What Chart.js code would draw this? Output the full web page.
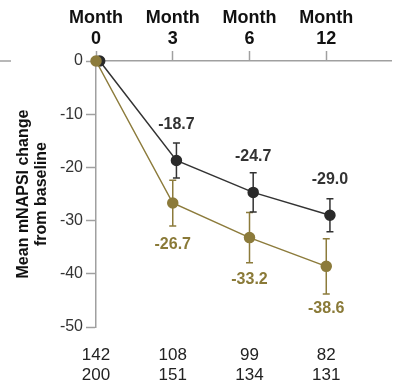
<!DOCTYPE html>
<html>
<head>
<meta charset="utf-8">
<script src="https://cdn.jsdelivr.net/npm/chart.js@4"></script>
<style>
  html, body { margin: 0; padding: 0; background: #fff; }
  #wrap { width: 398px; height: 386px; position: relative; }
</style>
</head>
<body>
<div id="wrap"><canvas id="c"></canvas></div>
<script>
// Visit months and patients at risk per arm
const months = ['0', '3', '6', '12'];
const nGray = [142, 108, 99, 82];
const nGold = [200, 151, 134, 131];

// Mean change from baseline and error bar half-widths
const meanGray = [0, -18.7, -24.7, -29.0];
const errGray = [0, 3.3, 3.7, 3.1];
const meanGold = [0, -26.7, -33.2, -38.6];
const errGold = [0, 4.3, 4.7, 5.2];

// Y axis range and step
const yMin = -50, yMax = 0, yStep = 10;

const GRAY = '#333333';
const GOLD = '#8c7b3b';
const AXIS = '#a0a0a0';
const FONT = "'Liberation Sans', Arial, sans-serif";
const DODGE = 0.048; // horizontal nudge so the two arms do not overlap

const errByDataset = [errGold, errGray];

const errorBars = {
  id: 'errorBars',
  beforeDatasetsDraw(chart) {
    const ctx = chart.ctx, y = chart.scales.y;
    chart.data.datasets.forEach((ds, di) => {
      const meta = chart.getDatasetMeta(di);
      const errs = errByDataset[di];
      ctx.save();
      ctx.strokeStyle = ds.borderColor;
      ctx.lineWidth = 1.5;
      meta.data.forEach((pt, i) => {
        const e = errs[i];
        if (!e) return;
        const v = ds.data[i].y;
        const top = y.getPixelForValue(v + e), bot = y.getPixelForValue(v - e);
        const cap = 3.5;
        ctx.beginPath();
        ctx.moveTo(pt.x, top); ctx.lineTo(pt.x, bot);
        ctx.moveTo(pt.x - cap, top); ctx.lineTo(pt.x + cap, top);
        ctx.moveTo(pt.x - cap, bot); ctx.lineTo(pt.x + cap, bot);
        ctx.stroke();
      });
      ctx.restore();
    });
  }
};

const valueLabels = {
  id: 'valueLabels',
  afterDatasetsDraw(chart) {
    const ctx = chart.ctx;
    ctx.save();
    ctx.font = 'bold 16px ' + FONT;
    ctx.textAlign = 'center';
    ctx.textBaseline = 'middle';
    chart.data.datasets.forEach((ds, di) => {
      const meta = chart.getDatasetMeta(di);
      const above = ds.labelSide === 'above';
      ctx.fillStyle = ds.labelColor;
      meta.data.forEach((pt, i) => {
        if (i === 0) return;
        const v = ds.data[i].y;
        ctx.fillText(v.toFixed(1), pt.x, pt.y + (above ? -36 : 42));
      });
    });
    ctx.restore();
  }
};

const zeroStub = {
  id: 'zeroStub',
  afterDraw(chart) {
    const ctx = chart.ctx, y0 = chart.scales.y.getPixelForValue(0);
    ctx.save();
    ctx.strokeStyle = AXIS;
    ctx.lineWidth = 1.5;
    ctx.beginPath();
    ctx.moveTo(0, y0); ctx.lineTo(11, y0);
    ctx.stroke();
    ctx.restore();
  }
};

const fixedTicks = scale => { scale.ticks = months.map((_, i) => ({ value: i })); };

new Chart(document.getElementById('c'), {
  type: 'line',
  data: {
    datasets: [
      {
        label: 'gold',
        data: meanGold.map((v, i) => ({ x: i, y: v })),
        borderColor: GOLD, backgroundColor: GOLD,
        pointBackgroundColor: GOLD, pointBorderColor: GOLD,
        borderWidth: 1.5, pointRadius: 5, pointHoverRadius: 5,
        labelSide: 'below', labelColor: '#8a7a38',
        order: 0, clip: false
      },
      {
        label: 'gray',
        data: meanGray.map((v, i) => ({ x: i + DODGE, y: v })),
        borderColor: GRAY, backgroundColor: '#2a2a2a',
        pointBackgroundColor: '#2a2a2a', pointBorderColor: '#2a2a2a',
        borderWidth: 1.5, pointRadius: 5, pointHoverRadius: 5,
        labelSide: 'above', labelColor: '#333333',
        order: 1, clip: false
      }
    ]
  },
  options: {
    responsive: true,
    maintainAspectRatio: false,
    animation: false,
    layout: { padding: 0 },
    plugins: { legend: { display: false }, tooltip: { enabled: false } },
    scales: {
      x: {
        type: 'linear', position: 'top', min: 0, max: 3.85,
        afterBuildTicks: fixedTicks,
        afterFit: s => { s.height = 61; },
        ticks: {
          callback: (v, i) => ['Month', months[i]],
          font: { family: FONT, size: 18, weight: 'bold' },
          color: '#111', padding: 1, maxRotation: 0, autoSkip: false
        },
        grid: { drawOnChartArea: false, drawTicks: true, tickLength: 10, tickColor: AXIS, tickWidth: 1.5 },
        border: { color: AXIS, width: 1.5 }
      },
      x2: {
        type: 'linear', position: 'bottom', min: 0, max: 3.85,
        afterBuildTicks: fixedTicks,
        afterFit: s => { s.height = 59; },
        ticks: {
          callback: (v, i) => [String(nGray[i]), String(nGold[i])],
          font: { family: FONT, size: 17 },
          color: '#222', padding: 10, maxRotation: 0, autoSkip: false
        },
        grid: { display: false },
        border: { display: false }
      },
      y: {
        min: yMin, max: yMax,
        afterFit: s => { s.width = 96; },
        ticks: {
          stepSize: yStep,
          font: { family: FONT, size: 16 },
          color: '#333', padding: 3
        },
        grid: { drawOnChartArea: false, drawTicks: true, tickLength: 10, tickColor: AXIS, tickWidth: 1.5 },
        border: { color: AXIS, width: 1.5 },
        title: {
          display: true,
          text: ['Mean mNAPSI change', 'from baseline'],
          font: { family: FONT, size: 16, weight: 'bold', lineHeight: 1.15 },
          color: '#111', padding: { top: 14, bottom: 0 }
        }
      }
    }
  },
  plugins: [errorBars, valueLabels, zeroStub]
});
</script>
</body>
</html>
